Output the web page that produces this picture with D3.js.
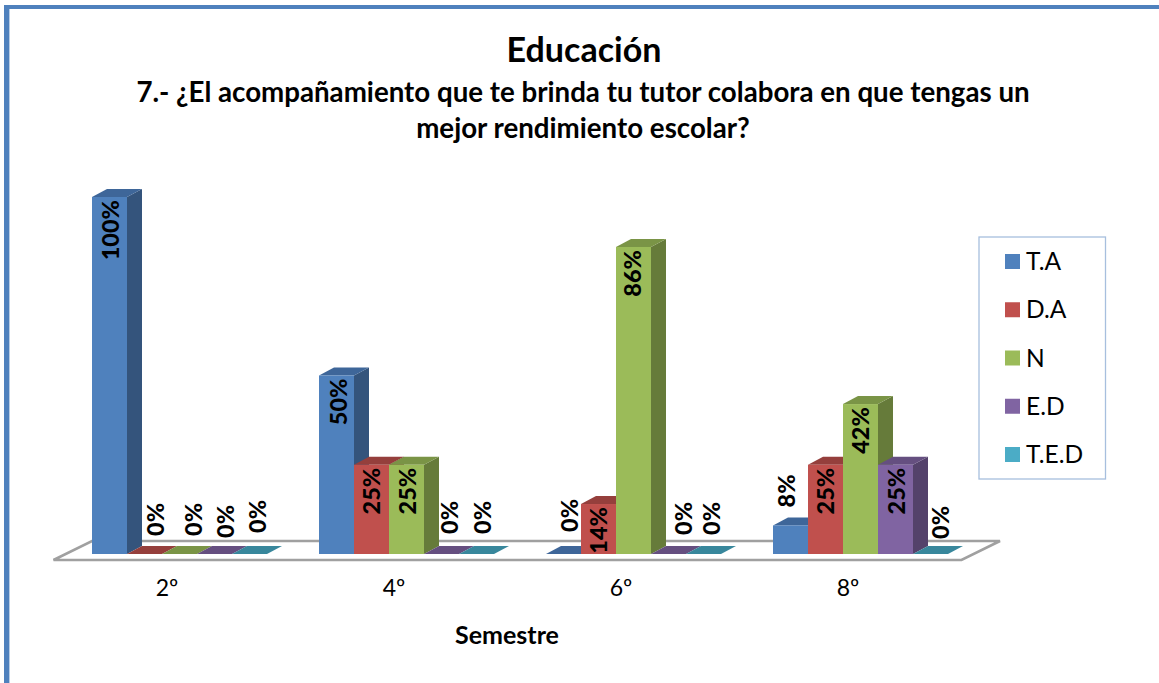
<!DOCTYPE html>
<html>
<head>
<meta charset="utf-8">
<script src="https://cdn.jsdelivr.net/npm/d3@7"></script>
<style>
    html, body { margin: 0; padding: 0; background: #fff; }
    svg { display: block; }
    text { font-family: Lato, "Open Sans", sans-serif; fill: #000; }
</style>
</head>
<body>
<div id="chart"></div>
<script>
const semesters = ["2º", "4º", "6º", "8º"];
const seriesNames = ["T.A", "D.A", "N", "E.D", "T.E.D"];
const valuesTA = [100, 50, 0, 8];
const valuesDA = [0, 25, 14, 25];
const valuesN = [0, 25, 86, 42];
const valuesED = [0, 0, 0, 25];
const valuesTED = [0, 0, 0, 0];
const seriesValues = [valuesTA, valuesDA, valuesN, valuesED, valuesTED];

const titleText = "Educación";
const subtitleLines = [
    "7.- ¿El acompañamiento que te brinda tu tutor colabora en que tengas un",
    "mejor rendimiento escolar?"
];
const axisTitle = "Semestre";

const frontColors = ["#4f81bd", "#c0504d", "#9bbb59", "#8064a2", "#4bacc6"];
const sideColors = ["#34547c", "#7f3533", "#667b3a", "#54426b", "#317182"];
const topColors = ["#3e6699", "#953f3c", "#7a9446", "#654f80", "#38879c"];

const width = 1159;
const height = 683;
const baseY = 554;
const depthX = 15;
const depthY = 8;

const svg = d3.select("#chart").append("svg")
    .attr("width", width)
    .attr("height", height);

// page frame, only the top and left edges are in the picture
svg.append("rect").attr("x", 4).attr("y", 5).attr("width", width - 4).attr("height", 4).attr("fill", "#4f81bd");
svg.append("rect").attr("x", 4).attr("y", 5).attr("width", 5).attr("height", height - 5).attr("fill", "#4f81bd");
svg.append("rect").attr("x", 9).attr("y", 9).attr("width", 1).attr("height", height - 9).attr("fill", "#b9cde5");

const xGroup = d3.scaleBand().domain(semesters).range([53.5, 961.5]);
const xSeries = d3.scaleBand().domain(seriesNames).range([38.5, 213.5]);
const y = d3.scaleLinear().domain([0, 100]).range([baseY, 197]);

// floor
const floorFront = baseY + 6;
const floorBack = baseY - 13;
svg.append("polygon")
    .attr("points", [
        [xGroup.range()[0], floorFront],
        [xGroup.range()[1], floorFront],
        [xGroup.range()[1] + 38.5, floorBack],
        [xGroup.range()[0] + 38.5, floorBack]
    ].join(" "))
    .attr("fill", "#fff")
    .attr("stroke", "#a0a0a0")
    .attr("stroke-width", 2.6);

const rows = seriesNames.flatMap((name, s) => semesters.map((sem, g) => ({
    name, sem, s, g, value: seriesValues[s][g]
})));

const bars = svg.append("g").selectAll("g")
    .data(rows.slice().sort((a, b) => a.g - b.g || a.s - b.s))
    .join("g")
    .attr("transform", d => `translate(${xGroup(d.sem) + xSeries(d.name)},0)`);

const w = xSeries.bandwidth();

bars.append("polygon")
    .attr("points", d => [
        [w, y(d.value)], [w + depthX, y(d.value) - depthY],
        [w + depthX, baseY - depthY], [w, baseY]
    ].join(" "))
    .attr("fill", d => sideColors[d.s]);

bars.append("polygon")
    .attr("points", d => [
        [0, y(d.value)], [depthX, y(d.value) - depthY],
        [w + depthX, y(d.value) - depthY], [w, y(d.value)]
    ].join(" "))
    .attr("fill", d => topColors[d.s]);

bars.append("rect")
    .attr("y", d => y(d.value))
    .attr("width", w)
    .attr("height", d => baseY - y(d.value))
    .attr("fill", d => frontColors[d.s]);

// hand nudges for the data labels [dx, dy], one row per semester
const labelNudges = [
    [[1, 0], [11, 0], [14, 0], [11, 2], [8, -3]],
    [[2, 0], [0, 0], [1, 0], [8, -2], [6, -2]],
    [[6, -4], [0, 0], [-1, 0], [15, -1], [8, -1]],
    [[-4, 0], [0, 0], [0, 0], [1, 0], [10, 3]]
];

svg.append("g").selectAll("text")
    .data(rows)
    .join("text")
    .attr("transform", d => {
        const n = labelNudges[d.g][d.s];
        const cx = xGroup(d.sem) + xSeries(d.name) + w / 2 + n[0];
        const inside = d.value >= 14;
        const cy = (inside ? y(d.value) + 3 : y(d.value) - 18) + n[1];
        return `translate(${cx},${cy}) rotate(-90)`;
    })
    .attr("text-anchor", d => d.value >= 14 ? "end" : "start")
    .attr("dy", "0.35em")
    .style("font-size", "23.5px")
    .style("font-weight", 900)
    .text(d => d.value + "%");

// axis
const xAxis = d3.axisBottom(xGroup).tickSize(0).tickPadding(0);
const axisG = svg.append("g")
    .attr("transform", "translate(0,580)")
    .call(xAxis);
axisG.select(".domain").remove();
axisG.selectAll("text")
    .style("font-family", "Lato, sans-serif")
    .style("font-size", "23px")
    .attr("fill", "#000");

svg.append("text")
    .attr("x", 507).attr("y", 644)
    .attr("text-anchor", "middle")
    .style("font-size", "25px")
    .style("font-weight", 700)
    .text(axisTitle);

// titles
svg.append("text")
    .attr("x", 584).attr("y", 62)
    .attr("text-anchor", "middle")
    .style("font-size", "34px")
    .style("font-weight", 700)
    .text(titleText);

svg.append("g").selectAll("text")
    .data(subtitleLines)
    .join("text")
    .attr("x", 583)
    .attr("y", (d, i) => 102 + i * 36)
    .attr("text-anchor", "middle")
    .style("font-size", "27.7px")
    .style("font-weight", 700)
    .text(d => d);

// legend
const legendY = d3.scalePoint().domain(seriesNames).range([261.5, 454.5]);
svg.append("rect")
    .attr("x", 979).attr("y", 237)
    .attr("width", 126.5).attr("height", 242)
    .attr("fill", "#fff")
    .attr("stroke", "#a7bfde")
    .attr("stroke-width", 1.3);

const legend = svg.append("g").selectAll("g")
    .data(seriesNames)
    .join("g")
    .attr("transform", d => `translate(1005,${legendY(d)})`);

legend.append("rect")
    .attr("y", -7.5)
    .attr("width", 15)
    .attr("height", 15)
    .attr("fill", (d, i) => frontColors[i]);

legend.append("text")
    .attr("x", 21)
    .attr("dy", "0.35em")
    .style("font-size", "24.5px")
    .text(d => d);
</script>
</body>
</html>
